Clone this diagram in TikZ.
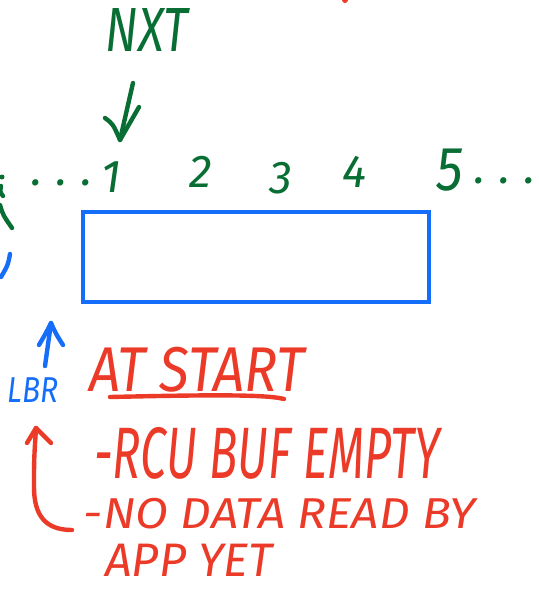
\documentclass[tikz,border=0pt]{standalone}
\usepackage{fontspec}
\setmainfont{Fira Sans}
\usetikzlibrary{arrows.meta}
\definecolor{hgreen}{RGB}{8,110,52}
\definecolor{hblue}{RGB}{20,110,250}
\definecolor{hred}{RGB}{235,58,40}
\newcommand{\hwsize}[1]{\mdseries\itshape\fontsize{#1}{#1}\selectfont}
\tikzset{
  hw/.style={inner sep=0pt},
  ink/.style={line width=4.4pt, line cap=round, line join=round},
  gtext/.style={hw, text=hgreen},
  rtext/.style={hw, text=hred},
  btext/.style={hw, text=hblue},
}
\begin{document}
\begin{tikzpicture}[x=1pt,y=-1pt]
\useasboundingbox (0,0) rectangle (539,590);
% fragments at the edges
\fill[hred] (345,0) circle (3);
\fill[hgreen] (2,177) circle (2.5);
\draw[ink, hgreen] (1,186) .. controls (0,192) .. (3,196);
\draw[ink, hgreen] (0,205) .. controls (3,215) .. (12,228);
\draw[ink, hblue] (10,254) .. controls (8,265) .. (1,277);

% NXT
\node[gtext, font=\hwsize{48}, yscale=1.3] (nxt) at (147,30) {NXT};
% sequence
\node[gtext, font=\hwsize{46}] (dl) at (62,183) {\addfontfeature{LetterSpace=30}...};
\node[gtext, font=\hwsize{46}] (n1) at (111,177) {1};
\node[gtext, font=\hwsize{46}] (n2) at (201,172) {2};
\node[gtext, font=\hwsize{46}] (n3) at (281,178) {3};
\node[gtext, font=\hwsize{46}] (n4) at (355,172) {4};
\node[gtext, font=\hwsize{54}, yscale=1.15] (n5) at (450,170) {5};
\node[gtext, font=\hwsize{46}] (dr) at (505,181) {\addfontfeature{LetterSpace=30}...};
% NXT arrow
\coordinate (na) at (133,83);
\coordinate (nb) at (120,140);
\draw[ink, hgreen] (na) -- (nb);
\draw[ink, hgreen] (105,118) .. controls (113,124) .. (nb) .. controls (130,124) .. (139,107);

% buffer
\node[draw=hblue, line width=4pt, minimum width=346pt, minimum height=90pt, inner sep=0pt, anchor=north west] (buf) at (81,210) {};

% LBR arrow
\node[btext, font=\hwsize{30}, yscale=1.2] (lbr) at (33,390) {LBR};
\coordinate (lt) at (51,323);
\draw[ink, hblue] (45,366) -- (lt);
\draw[ink, hblue] (39,345) .. controls (46,333) .. (lt) .. controls (56,334) .. (63,345);

% red text
\node[rtext, font=\hwsize{55}, yscale=1.15] (start) at (197,370) {AT START};
\draw[ink, hred] (110,397) .. controls (200,395) and (265,394) .. (284,399);
\node[rtext, font=\hwsize{47}, yscale=1.55] (l1) at (267,453) {-RCU BUF EMPTY};
\node[rtext, font=\hwsize{48}, yscale=0.9] (l2) at (280,514) {-NO DATA READ BY};
\node[rtext, font=\hwsize{47}, yscale=1.0] (l3) at (189,560) {APP YET};

% red arrow
\coordinate (ra) at (72,530);
\coordinate (rt) at (36,428);
\draw[ink, hred] (ra) .. controls (45,530) and (34,515) .. (34,487) .. controls (34,460) .. (rt);
\draw[ink, hred] (27,443) .. controls (32,435) .. (rt) .. controls (44,435) .. (51,443);
\end{tikzpicture}
\end{document}
